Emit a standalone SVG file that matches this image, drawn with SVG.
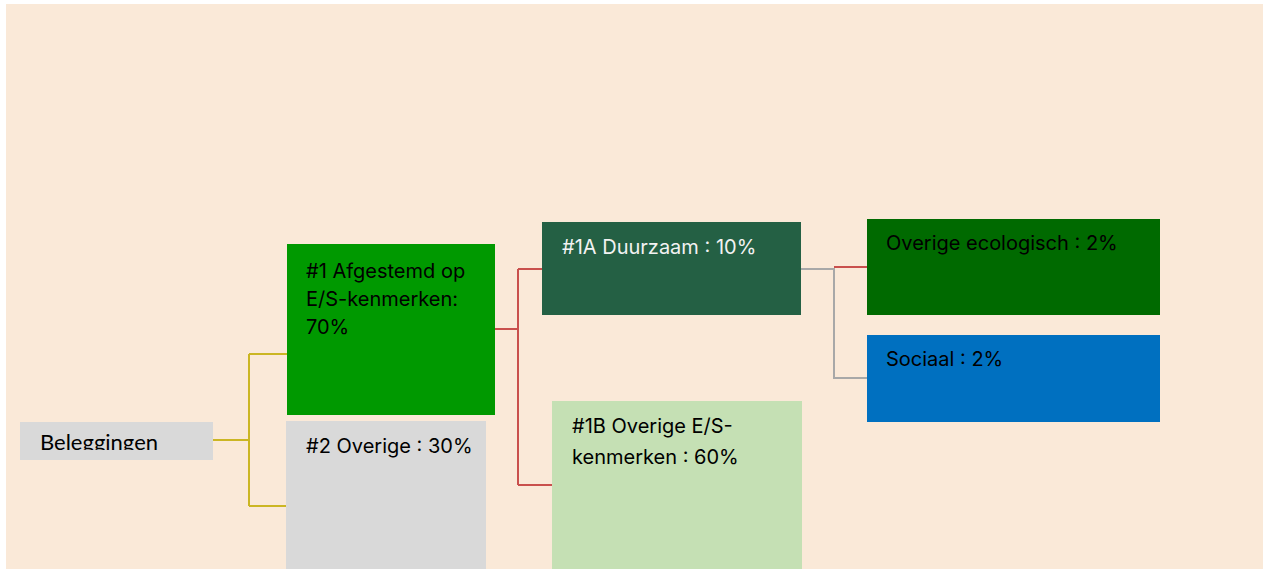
<svg xmlns="http://www.w3.org/2000/svg" width="1263" height="573" viewBox="0 0 1263 573">
<defs>
<style>
.t{font-family:Inter,"Liberation Sans",sans-serif;font-size:20px;fill:#000}
.w{fill:#f2f2f2}
.c{fill:none;stroke-width:2}
.y{stroke:#cbb624}
.r{stroke:#c9504d}
.g{stroke:#a8a8a8}
</style>
<clipPath id="clipB"><rect x="20" y="422" width="193" height="28"/></clipPath>
</defs>
<rect x="0" y="0" width="1263" height="573" fill="#ffffff"/>
<rect x="6" y="4" width="1257" height="565" fill="#fae9d8"/>
<g id="connectors">
<path class="c y" d="M213 440H249M249 354V506M249 354H287M249 506H287"/>
<path class="c r" d="M495 329H518M518 269V485M518 269H542M518 485H552"/>
<path class="c g" d="M801 269H834V378H867"/>
<path class="c r" d="M834 267H867"/>
</g>
<g id="beleggingen">
<rect x="20" y="422" width="193" height="38" fill="#d9d9d9"/>
<text class="t" x="40" y="450" clip-path="url(#clipB)" style="font-family:Lato,'Liberation Sans',sans-serif;font-size:22px">Beleggingen</text>
</g>
<g id="n1">
<rect x="287" y="244" width="208" height="171" fill="#009900"/>
<text class="t" x="306" y="278">#1 Afgestemd op</text>
<text class="t" x="306" y="306">E/S-kenmerken:</text>
<text class="t" x="306" y="334">70%</text>
</g>
<g id="n2">
<rect x="286" y="421" width="200" height="148" fill="#d9d9d9"/>
<text class="t" x="306" y="453">#2 Overige : 30%</text>
</g>
<g id="n1a">
<rect x="542" y="222" width="259" height="93" fill="#246044"/>
<text class="t w" x="562" y="254">#1A Duurzaam : 10%</text>
</g>
<g id="n1b">
<rect x="552" y="401" width="250" height="168" fill="#c5e0b4"/>
<text class="t" x="572" y="433">#1B Overige E/S-</text>
<text class="t" x="572" y="464">kenmerken : 60%</text>
</g>
<g id="eco">
<rect x="867" y="219" width="293" height="96" fill="#006a00"/>
<text class="t" x="886" y="250">Overige ecologisch : 2%</text>
</g>
<g id="sociaal">
<rect x="867" y="335" width="293" height="87" fill="#0070c0"/>
<text class="t" x="886" y="366">Sociaal : 2%</text>
</g>
</svg>
